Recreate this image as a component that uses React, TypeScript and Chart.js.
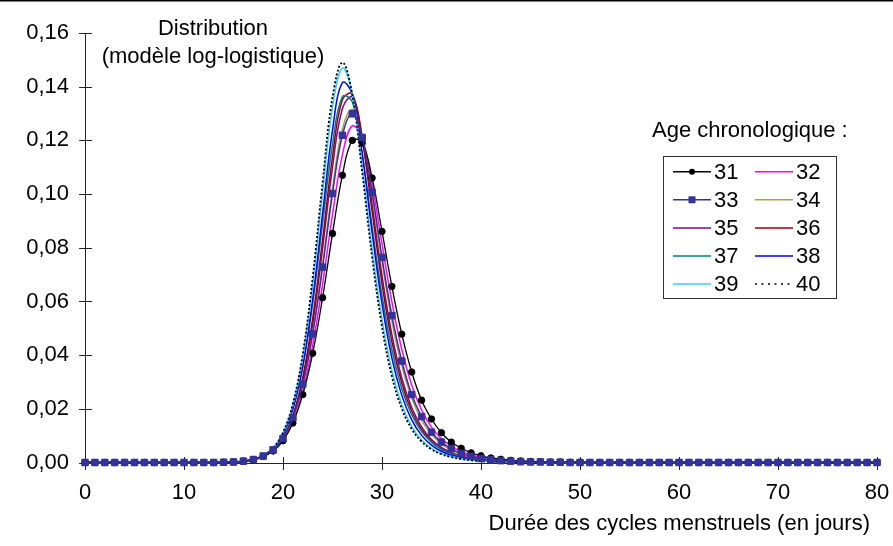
import React, { useEffect, useRef } from 'react';
import { Chart, registerables } from 'chart.js';

Chart.register(...registerables);

// ---- data ----
const days: number[] = Array.from({ length: 81 }, (_, i) => i);
const ageLabels: string[] = ['31', '32', '33', '34', '35', '36', '37', '38', '39', '40'];

const Z14 = [0, 0, 0, 0, 0, 0, 0, 0, 0, 0, 0, 0, 0, 0];

const age31: number[] = [...Z14,
  0.0001, 0.0002, 0.0005, 0.0011, 0.0023, 0.0043, 0.0081, 0.0147, 0.0253, 0.0407,
  0.0614, 0.0853, 0.1070, 0.1200, 0.1190, 0.1060, 0.0861, 0.0656, 0.0478, 0.0337,
  0.0232, 0.0162, 0.0111, 0.0076, 0.0053, 0.0036, 0.0025, 0.0017, 0.0012, 0.0008,
  0.0006, 0.0004, 0.0003, 0.0002, 0.0002, 0.0001, 0.0001,
  0, 0, 0, 0, 0, 0, 0, 0, 0, 0, 0, 0, 0, 0, 0, 0, 0, 0, 0, 0, 0, 0, 0, 0, 0, 0, 0, 0, 0, 0];
const age32: number[] = [...Z14,
  0.0001, 0.0002, 0.0005, 0.0011, 0.0023, 0.0045, 0.0085, 0.0154, 0.0267, 0.0436,
  0.0665, 0.0923, 0.1146, 0.1254, 0.1208, 0.1038, 0.0815, 0.0598, 0.0421, 0.0289,
  0.0196, 0.0132, 0.0089, 0.0061, 0.0041, 0.0028, 0.0020, 0.0014, 0.0010, 0.0007,
  0.0005, 0.0004, 0.0003, 0.0002, 0.0001, 0.0001, 0.0001,
  0, 0, 0, 0, 0, 0, 0, 0, 0, 0, 0, 0, 0, 0, 0, 0, 0, 0, 0, 0, 0, 0, 0, 0, 0, 0, 0, 0, 0, 0];
const age33: number[] = [...Z14,
  0.0001, 0.0002, 0.0005, 0.0011, 0.0024, 0.0047, 0.0089, 0.0167, 0.0292, 0.0479,
  0.0728, 0.1002, 0.1219, 0.1299, 0.1211, 0.1007, 0.0764, 0.0547, 0.0378, 0.0253,
  0.0171, 0.0113, 0.0076, 0.0051, 0.0034, 0.0023, 0.0015, 0.0010, 0.0007, 0.0005,
  0.0003, 0.0002, 0.0002, 0.0001, 0.0001, 0, 0,
  0, 0, 0, 0, 0, 0, 0, 0, 0, 0, 0, 0, 0, 0, 0, 0, 0, 0, 0, 0, 0, 0, 0, 0, 0, 0, 0, 0, 0, 0];
const age34: number[] = [...Z14,
  0.0001, 0.0002, 0.0005, 0.0011, 0.0022, 0.0046, 0.0089, 0.0165, 0.0291, 0.0483,
  0.0740, 0.1022, 0.1243, 0.1316, 0.1215, 0.0997, 0.0748, 0.0527, 0.0360, 0.0240,
  0.0158, 0.0105, 0.0069, 0.0046, 0.0031, 0.0021, 0.0014, 0.0010, 0.0007, 0.0005,
  0.0003, 0.0002, 0.0002, 0.0001, 0.0001, 0, 0,
  0, 0, 0, 0, 0, 0, 0, 0, 0, 0, 0, 0, 0, 0, 0, 0, 0, 0, 0, 0, 0, 0, 0, 0, 0, 0, 0, 0, 0, 0];
const age35: number[] = [...Z14,
  0.0001, 0.0002, 0.0004, 0.0010, 0.0022, 0.0045, 0.0090, 0.0170, 0.0306, 0.0516,
  0.0798, 0.1099, 0.1319, 0.1361, 0.1214, 0.0960, 0.0696, 0.0476, 0.0315, 0.0205,
  0.0133, 0.0086, 0.0056, 0.0037, 0.0024, 0.0016, 0.0011, 0.0008, 0.0005, 0.0004,
  0.0003, 0.0002, 0.0001, 0.0001, 0, 0, 0,
  0, 0, 0, 0, 0, 0, 0, 0, 0, 0, 0, 0, 0, 0, 0, 0, 0, 0, 0, 0, 0, 0, 0, 0, 0, 0, 0, 0, 0, 0];
const age36: number[] = [...Z14,
  0.0001, 0.0002, 0.0004, 0.0010, 0.0022, 0.0046, 0.0092, 0.0175, 0.0318, 0.0537,
  0.0830, 0.1139, 0.1352, 0.1373, 0.1204, 0.0936, 0.0667, 0.0450, 0.0296, 0.0191,
  0.0123, 0.0079, 0.0051, 0.0034, 0.0022, 0.0015, 0.0010, 0.0007, 0.0005, 0.0003,
  0.0002, 0.0002, 0.0001, 0, 0, 0, 0,
  0, 0, 0, 0, 0, 0, 0, 0, 0, 0, 0, 0, 0, 0, 0, 0, 0, 0, 0, 0, 0, 0, 0, 0, 0, 0, 0, 0, 0, 0];
const age37: number[] = [...Z14,
  0.0001, 0.0002, 0.0005, 0.0012, 0.0026, 0.0054, 0.0106, 0.0201, 0.0357, 0.0592,
  0.0892, 0.1185, 0.1363, 0.1344, 0.1150, 0.0880, 0.0623, 0.0419, 0.0275, 0.0178,
  0.0115, 0.0075, 0.0049, 0.0032, 0.0021, 0.0014, 0.0010, 0.0007, 0.0005, 0.0003,
  0.0002, 0.0002, 0.0001, 0, 0, 0, 0,
  0, 0, 0, 0, 0, 0, 0, 0, 0, 0, 0, 0, 0, 0, 0, 0, 0, 0, 0, 0, 0, 0, 0, 0, 0, 0, 0, 0, 0, 0];
const age38: number[] = [...Z14,
  0.0001, 0.0002, 0.0005, 0.0011, 0.0024, 0.0051, 0.0103, 0.0199, 0.0361, 0.0609,
  0.0927, 0.1238, 0.1415, 0.1372, 0.1149, 0.0857, 0.0592, 0.0389, 0.0250, 0.0159,
  0.0101, 0.0065, 0.0042, 0.0027, 0.0018, 0.0012, 0.0008, 0.0005, 0.0004, 0.0002,
  0.0002, 0.0001, 0, 0, 0, 0, 0,
  0, 0, 0, 0, 0, 0, 0, 0, 0, 0, 0, 0, 0, 0, 0, 0, 0, 0, 0, 0, 0, 0, 0, 0, 0, 0, 0, 0, 0, 0];
const age39: number[] = [...Z14,
  0.0001, 0.0002, 0.0005, 0.0011, 0.0024, 0.0053, 0.0109, 0.0213, 0.0391, 0.0663,
  0.1005, 0.1323, 0.1469, 0.1373, 0.1105, 0.0795, 0.0532, 0.0342, 0.0215, 0.0135,
  0.0084, 0.0053, 0.0034, 0.0022, 0.0014, 0.0009, 0.0006, 0.0004, 0.0003, 0.0002,
  0.0001, 0.0001, 0, 0, 0, 0, 0,
  0, 0, 0, 0, 0, 0, 0, 0, 0, 0, 0, 0, 0, 0, 0, 0, 0, 0, 0, 0, 0, 0, 0, 0, 0, 0, 0, 0, 0, 0];
const age40: number[] = [...Z14,
  0.0001, 0.0002, 0.0005, 0.0011, 0.0025, 0.0054, 0.0112, 0.0220, 0.0406, 0.0690,
  0.1044, 0.1361, 0.1490, 0.1369, 0.1081, 0.0765, 0.0506, 0.0321, 0.0201, 0.0125,
  0.0078, 0.0049, 0.0031, 0.0020, 0.0013, 0.0008, 0.0005, 0.0004, 0.0002, 0.0002,
  0.0001, 0.0001, 0, 0, 0, 0, 0,
  0, 0, 0, 0, 0, 0, 0, 0, 0, 0, 0, 0, 0, 0, 0, 0, 0, 0, 0, 0, 0, 0, 0, 0, 0, 0, 0, 0, 0, 0];

const seriesValues: number[][] = [age31, age32, age33, age34, age35, age36, age37, age38, age39, age40];

const X_MIN = 0, X_MAX = 80, X_STEP = 10;
const Y_MIN = 0, Y_MAX = 0.16, Y_STEP = 0.02;

const chartTitleLines: string[] = ['Distribution', '(modèle log-logistique)'];
const xAxisTitle = 'Durée des cycles menstruels (en jours)';
const legendTitle = 'Age chronologique :';

// ---- styles ----
const FONT = "'Liberation Sans', Arial, Helvetica, sans-serif";
type SeriesStyle = { color: string; dash: number[]; point: string | false; radius: number; width: number; order: number };
const seriesStyles: SeriesStyle[] = [
  { color: '#000000', dash: [], point: 'circle', radius: 3.2, width: 1.3, order: 1 },
  { color: '#FF00FF', dash: [], point: false, radius: 0, width: 1.5, order: 10 },
  { color: '#333399', dash: [], point: 'rect', radius: 4.6, width: 1.5, order: 0 },
  { color: '#A8A040', dash: [], point: false, radius: 0, width: 1.5, order: 9 },
  { color: '#8B008B', dash: [], point: false, radius: 0, width: 1.5, order: 8 },
  { color: '#9A0000', dash: [], point: false, radius: 0, width: 1.5, order: 7 },
  { color: '#008080', dash: [], point: false, radius: 0, width: 1.5, order: 6 },
  { color: '#0000FF', dash: [], point: false, radius: 0, width: 1.5, order: 5 },
  { color: '#33CCFF', dash: [], point: false, radius: 0, width: 1.5, order: 4 },
  { color: '#000000', dash: [2, 2], point: false, radius: 0, width: 1.8, order: 3 },
];

const decorPlugin = {
  id: 'decor',
  beforeDatasetsDraw(chart: any) {
    const { ctx, scales } = chart;
    const xs = scales.x, ys = scales.y;
    const x0 = Math.round(xs.getPixelForValue(X_MIN)) + 0.5;
    const x1 = xs.getPixelForValue(X_MAX);
    const yTop = ys.getPixelForValue(Y_MAX);
    const yBot = Math.round(ys.getPixelForValue(Y_MIN)) + 0.5;
    ctx.save();
    ctx.strokeStyle = '#222';
    ctx.lineWidth = 1;
    ctx.beginPath();
    ctx.moveTo(x0, yTop); ctx.lineTo(x0, yBot);
    ctx.moveTo(x0, yBot); ctx.lineTo(x1, yBot);
    ys.ticks.forEach((t: any) => {
      const p = Math.round(ys.getPixelForValue(t.value)) + 0.5;
      ctx.moveTo(x0 - 6.5, p); ctx.lineTo(x0 + 6.5, p);
    });
    xs.ticks.forEach((t: any) => {
      const p = Math.round(xs.getPixelForValue(t.value)) + 0.5;
      ctx.moveTo(p, yBot - 6.5); ctx.lineTo(p, yBot + 6.5);
    });
    ctx.stroke();
    ctx.restore();
  },
  afterDraw(chart: any) {
    const { ctx } = chart;
    ctx.save();
    ctx.fillStyle = '#000';
    ctx.fillRect(0, 0, chart.width, 1.5);
    ctx.font = `22px ${FONT}`;
    ctx.fillStyle = '#000';
    ctx.textBaseline = 'alphabetic';
    ctx.textAlign = 'center';
    ctx.fillText(chartTitleLines[0], 213, 35);
    ctx.fillText(chartTitleLines[1], 213, 63);
    ctx.textAlign = 'right';
    ctx.fillText(xAxisTitle, 870, 529.5);
    ctx.textAlign = 'left';
    ctx.fillText(legendTitle, 652, 136.5);
    ctx.strokeStyle = '#333';
    ctx.lineWidth = 1;
    ctx.strokeRect(663.5, 156.5, 173, 142);
    const colLine = [673, 755];
    const rowY0 = 171.7, rowStep = 28.1;
    chart.data.datasets.forEach((ds: any, i: number) => {
      const st = seriesStyles[i];
      const col = i % 2, row = Math.floor(i / 2);
      const y = rowY0 + row * rowStep;
      const lx = colLine[col];
      ctx.save();
      ctx.strokeStyle = ds.borderColor;
      ctx.lineWidth = 1.5;
      ctx.setLineDash(st.dash.length ? [2, 4.5] : []);
      ctx.beginPath();
      ctx.moveTo(lx, y); ctx.lineTo(lx + 38, y);
      ctx.stroke();
      ctx.setLineDash([]);
      ctx.fillStyle = ds.borderColor;
      if (st.point === 'circle') {
        ctx.beginPath(); ctx.arc(lx + 19, y, 3, 0, Math.PI * 2); ctx.fill();
      } else if (st.point === 'rect') {
        ctx.fillRect(lx + 19 - 3.5, y - 3.5, 7, 7);
      }
      ctx.restore();
      ctx.fillStyle = '#000';
      ctx.textBaseline = 'middle';
      ctx.fillText(ds.label, lx + 41, y + 1);
    });
    ctx.restore();
  },
};

export default function App() {
  const canvasRef = useRef<HTMLCanvasElement | null>(null);
  useEffect(() => {
    document.body.style.margin = '0';
    const canvas = canvasRef.current;
    if (!canvas) return;
    const datasets = seriesValues.map((vals, i) => {
      const st = seriesStyles[i];
      return {
        label: ageLabels[i],
        data: days.map((d, k) => ({ x: d, y: vals[k] })),
        borderColor: st.color,
        backgroundColor: st.color,
        borderWidth: st.width,
        borderDash: st.dash,
        pointStyle: st.point || 'circle',
        pointRadius: st.radius,
        pointHoverRadius: st.radius,
        pointBorderWidth: 1,
        pointBackgroundColor: st.color,
        pointBorderColor: st.color,
        tension: 0.4,
        fill: false,
        order: st.order,
        clip: false as any,
      };
    });
    const chart = new Chart(canvas, {
      type: 'line',
      data: { datasets },
      options: {
        animation: false,
        responsive: false,
        devicePixelRatio: 1,
        layout: { padding: { left: 0, right: 16, top: 33, bottom: 0 } },
        plugins: { legend: { display: false }, tooltip: { enabled: false }, title: { display: false } },
        scales: {
          x: {
            type: 'linear',
            min: X_MIN,
            max: X_MAX,
            grid: { display: false, drawTicks: false },
            border: { display: false },
            ticks: { stepSize: X_STEP, padding: 17, color: '#000', font: { family: FONT, size: 22 }, maxRotation: 0 },
            afterFit: (s: any) => { s.height = 83.5; s.paddingLeft = 0; s.paddingRight = 0; },
          },
          y: {
            type: 'linear',
            min: Y_MIN,
            max: Y_MAX,
            grid: { display: false, drawTicks: false },
            border: { display: false },
            ticks: {
              stepSize: Y_STEP,
              padding: 16,
              color: '#000',
              font: { family: FONT, size: 22 },
              callback: (v: any) => Number(v).toFixed(2).replace('.', ','),
            },
            afterFit: (s: any) => { s.width = 85; },
          },
        },
      },
      plugins: [decorPlugin],
    });
    return () => chart.destroy();
  }, []);
  return (
    <div style={{ width: 893, height: 546, background: '#fff' }}>
      <canvas ref={canvasRef} width={893} height={546} style={{ display: 'block' }} />
    </div>
  );
}
